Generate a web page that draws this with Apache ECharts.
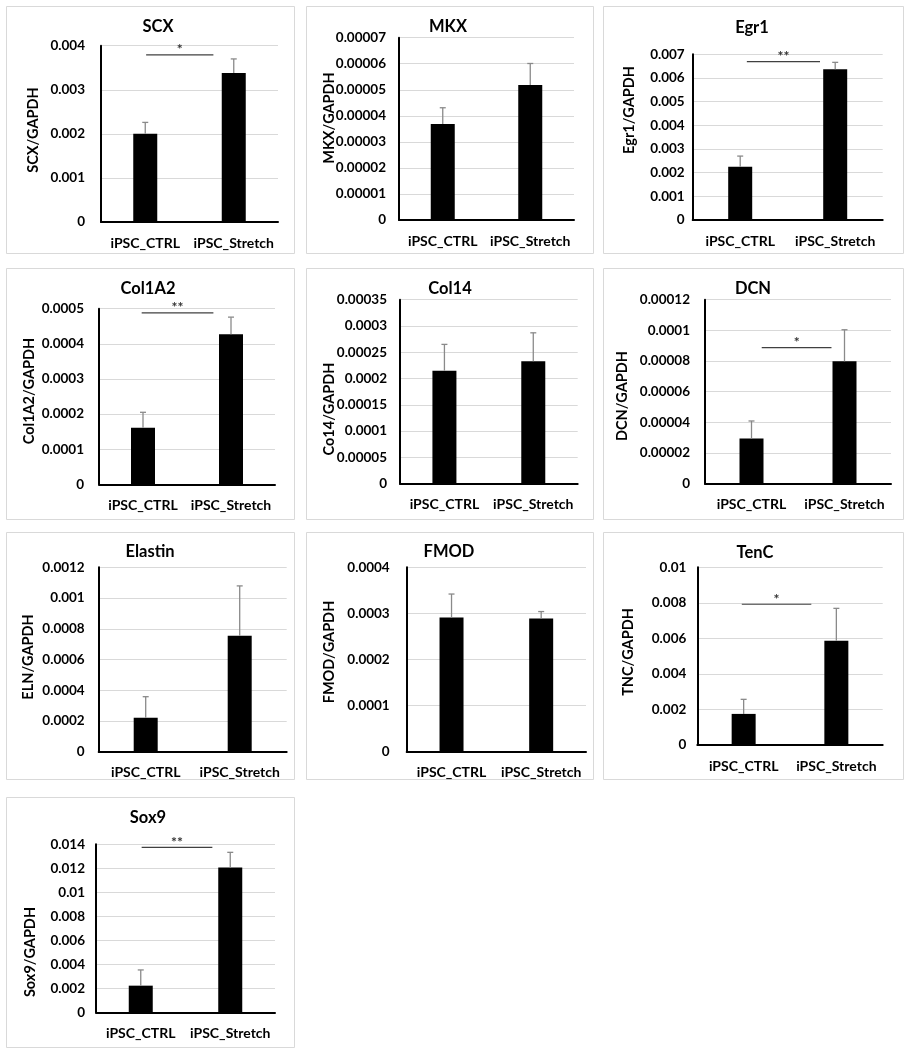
<!DOCTYPE html>
<html><head><meta charset="utf-8">
<script src="https://cdn.jsdelivr.net/npm/echarts@6/dist/echarts.min.js"></script>
<style>html,body{margin:0;padding:0;background:#fff}#c{width:910px;height:1050px}</style>
</head><body><div id="c"></div>
<script>
// ---------------- data ----------------
const genes = ['SCX', 'MKX', 'Egr1', 'Col1A2', 'Col14', 'DCN', 'Elastin', 'FMOD', 'TenC', 'Sox9'];
const yNames = ['SCX/GAPDH', 'MKX/GAPDH', 'Egr1/GAPDH', 'Col1A2/GAPDH', 'Co14/GAPDH', 'DCN/GAPDH', 'ELN/GAPDH', 'FMOD/GAPDH', 'TNC/GAPDH', 'Sox9/GAPDH'];
const categories = ['iPSC_CTRL', 'iPSC_Stretch'];
const ctrlMean    = [0.00200, 0.0000369, 0.00225, 0.000161, 0.000215, 0.0000294, 0.000221, 0.000291, 0.00175, 0.00222];
const ctrlErr     = [0.00026, 0.0000062, 0.00045, 0.000044, 0.000050, 0.0000115, 0.000137, 0.000051, 0.00082, 0.00131];
const stretchMean = [0.00338, 0.0000518, 0.00637, 0.000427, 0.000233, 0.0000798, 0.000755, 0.000289, 0.00587, 0.01206];
const stretchErr  = [0.00032, 0.0000083, 0.00029, 0.000049, 0.000054, 0.0000206, 0.000324, 0.000015, 0.00182, 0.00127];
const yMax  = [0.004, 0.00007, 0.007, 0.0005, 0.00035, 0.00012, 0.0012, 0.0004, 0.01, 0.014];
const yStep = [0.001, 0.00001, 0.001, 0.0001, 0.00005, 0.00002, 0.0002, 0.0001, 0.002, 0.002];
// significance bars: panel index, level (data value), start / end (in category units: 0 = CTRL, 1 = Stretch), label
const sigPanel = [0, 2, 3, 5, 8, 9];
const sigLevel = [0.00379, 0.00669, 0.000488, 0.0000887, 0.00792, 0.01375];
const sigStart = [0.01, 0.07, -0.015, 0.11, -0.02, 0.01];
const sigEnd   = [0.77, 0.84, 0.80, 0.86, 0.73, 0.80];
const sigLabel = ['*', '**', '**', '*', '*', '**'];

// ---------------- layout ----------------
const gridBoxes = [
  [101, 45.7, 177, 176.3], [399, 37.7, 175, 182.3], [692.7, 54.3, 190, 165.7],
  [99, 308.7, 176, 175.6], [400, 299.7, 177.7, 184], [705, 299.7, 186, 184],
  [98.7, 567.3, 188, 184.4], [406.7, 567.3, 179.3, 184.4], [697.3, 567.3, 185.4, 177.7],
  [96, 844.3, 179, 168]
];
const panelBoxes = [
  [6, 6, 288, 247], [306, 6, 287, 247], [603, 6, 300, 247],
  [6, 268, 288, 251], [306, 268, 287, 251], [603, 268, 300, 251],
  [6, 532, 288, 247], [306, 532, 287, 247], [603, 532, 300, 247],
  [6, 797, 288, 250]
];
const titlePos = [[158, 27], [448, 27], [752, 28], [148, 289], [450, 289], [753, 289], [150, 552], [449, 552], [755, 553], [148, 818]];
const yNamePos = [[33, 130], [329, 118], [629, 110], [29, 391], [329, 409], [622, 396], [28, 657], [329, 652], [628, 652], [30, 952]];
const tickMargin = [16, 13, 8, 15, 13, 15, 14, 17, 11, 11];

const FONT = 'Lato, "Open Sans", sans-serif';

const fmt = v => String(Number(v.toFixed(8)));

const grid = [], xAxis = [], yAxis = [], series = [], graphic = [];
genes.forEach((g, i) => {
  const b = gridBoxes[i];
  grid.push({ left: b[0], top: b[1], width: b[2], height: b[3] });
  xAxis.push({
    type: 'category', gridIndex: i, data: categories,
    axisLine: { lineStyle: { color: '#000', width: 2 } },
    axisTick: { show: false },
    axisLabel: { interval: 0, hideOverlap: false, color: '#000', fontFamily: FONT, fontWeight: 'bold', fontSize: 14, margin: 14 }
  });
  yAxis.push({
    type: 'value', gridIndex: i, min: 0, max: yMax[i], interval: yStep[i],
    axisLine: { show: true, lineStyle: { color: '#000', width: 2 } },
    axisTick: { show: false },
    splitLine: { lineStyle: { color: '#d9d9d9', width: 1 } },
    axisLabel: { color: '#000', fontFamily: FONT, fontWeight: 'bold', fontSize: 13.5, margin: tickMargin[i], formatter: fmt }
  });
  series.push({
    type: 'bar', xAxisIndex: i, yAxisIndex: i, barWidth: 24,
    itemStyle: { color: '#000' }, silent: true, animation: false,
    data: [ctrlMean[i], stretchMean[i]]
  });
  series.push({
    type: 'custom', xAxisIndex: i, yAxisIndex: i, z: 5, silent: true, animation: false,
    data: [[0, ctrlMean[i], ctrlErr[i]], [1, stretchMean[i], stretchErr[i]]],
    renderItem: (params, api) => {
      const p0 = api.coord([api.value(0), api.value(1)]);
      const p1 = api.coord([api.value(0), api.value(1) + api.value(2)]);
      const st = { stroke: '#8a8a8a', lineWidth: 1.3 };
      return {
        type: 'group', children: [
          { type: 'line', shape: { x1: p0[0], y1: p0[1], x2: p1[0], y2: p1[1] }, style: st },
          { type: 'line', shape: { x1: p1[0] - 3, y1: p1[1], x2: p1[0] + 3, y2: p1[1] }, style: st }
        ]
      };
    }
  });
  // panel frame
  const pb = panelBoxes[i];
  graphic.push({ type: 'rect', shape: { x: pb[0] + 0.5, y: pb[1] + 0.5, width: pb[2], height: pb[3] }, style: { fill: 'none', stroke: '#d9d9d9', lineWidth: 1 }, z: -10 });
  graphic.push({ type: 'text', x: titlePos[i][0], y: titlePos[i][1], style: { text: g, fill: '#000', font: 'bold 16.5px ' + FONT, align: 'center', verticalAlign: 'middle' } });
  graphic.push({ type: 'text', x: yNamePos[i][0], y: yNamePos[i][1], rotation: Math.PI / 2, style: { text: yNames[i], fill: '#000', font: 'bold 14.5px ' + FONT, align: 'center', verticalAlign: 'middle' } });
});

sigPanel.forEach((p, k) => {
  series.push({
    type: 'custom', xAxisIndex: p, yAxisIndex: p, z: 6, silent: true, animation: false,
    data: [[sigStart[k], sigEnd[k], sigLevel[k]]],
    renderItem: (params, api) => {
      const c0 = api.coord([0, api.value(2)]);
      const c1 = api.coord([1, api.value(2)]);
      const xa = c0[0] + (c1[0] - c0[0]) * api.value(0);
      const xb = c0[0] + (c1[0] - c0[0]) * api.value(1);
      const y = c0[1];
      return {
        type: 'group', children: [
          { type: 'line', shape: { x1: xa, y1: y, x2: xb, y2: y }, style: { stroke: '#404040', lineWidth: 1.2 } },
          { type: 'text', x: (xa + xb) / 2, y: y - 5, style: { text: sigLabel[k], fill: '#333', font: 'bold 14px ' + FONT, align: 'center', verticalAlign: 'middle' } }
        ]
      };
    }
  });
});

const chart = echarts.init(document.getElementById('c'), null, { renderer: 'canvas' });
chart.setOption({ animation: false, backgroundColor: '#fff', grid, xAxis, yAxis, series, graphic });
</script>
</body></html>
